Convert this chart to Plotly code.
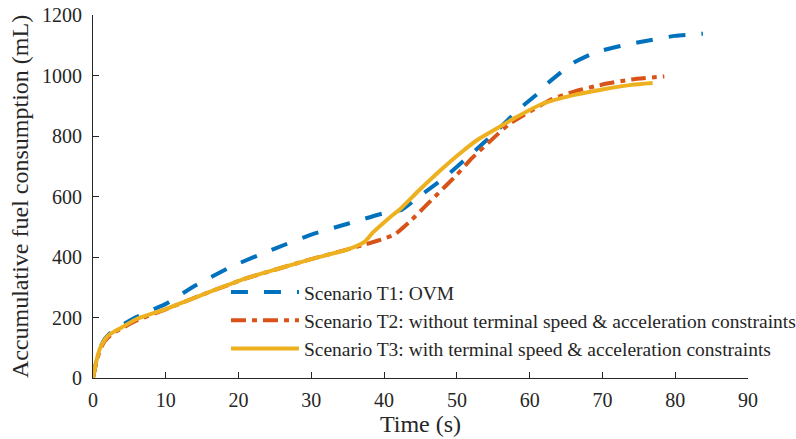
import plotly.graph_objects as go

t1 = [0, 0.5, 1, 1.5, 2, 3, 4, 6, 8, 10, 14, 19, 25, 30, 35, 40, 42.4, 44.8, 47.9, 51.6, 55.7, 58.5, 61, 62.6, 64.8, 66.1, 69, 72, 75, 80, 83.8]
y1 = [0, 60, 100, 125, 140, 160, 175, 202, 224, 245, 305, 368, 428, 474, 510, 545, 556, 600, 655, 732, 822, 888, 938, 977, 1020, 1043, 1076, 1095, 1110, 1131, 1138]

t2 = [0, 0.5, 1, 1.5, 2, 3, 4, 6, 10, 15, 21, 25, 30, 35, 37.5, 40, 41.5, 43.4, 47, 50, 52, 54.8, 57.1, 60, 63, 66, 70, 74, 78.5]
y2 = [0, 55, 95, 118, 132, 152, 165, 190, 227, 275, 329, 358, 393, 425, 442, 461, 475, 514, 600, 672, 725, 788, 838, 880, 921, 946, 970, 987, 997]

t3 = [0, 0.5, 1, 1.5, 2, 3, 4, 6, 10, 15, 21, 25, 30, 35, 37.3, 38.5, 40.5, 42.4, 44.7, 47.9, 50.7, 53, 55.7, 58, 61.6, 66, 70, 74, 76.9]
y3 = [0, 60, 100, 122, 138, 155, 168, 195, 228, 275, 329, 358, 393, 425, 450, 482, 525, 563, 618, 690, 748, 790, 828, 860, 905, 935, 954, 969, 975]

names = ["Scenario T1: OVM",
         "Scenario T2: without terminal speed &amp; acceleration constraints",
         "Scenario T3: with terminal speed &amp; acceleration constraints"]
colors = ["#0072BD", "#D95319", "#EDB120"]
dashes = ["17px,16px", "15px,6px,5px,6px", "solid"]

FONT = "Liberation Serif, Times New Roman, serif"
fig = go.Figure()
for i, (t, y) in enumerate([(t1, y1), (t2, y2), (t3, y3)]):
    fig.add_trace(go.Scatter(x=t, y=y, mode="lines", name=names[i],
                             line=dict(color=colors[i], width=4, dash=dashes[i], shape="spline", smoothing=0.5)))

fig.update_layout(
    width=796, height=439,
    margin=dict(l=93, r=48, t=15, b=61, autoexpand=False),
    paper_bgcolor="white", plot_bgcolor="white",
    font=dict(family=FONT, color="#262626", size=20),
    showlegend=True,
    legend=dict(x=0.203, y=0.29, xanchor="left", yanchor="top", bgcolor="rgba(0,0,0,0)",
                font=dict(size=19.5, family=FONT, color="#262626"), itemwidth=68),
    xaxis=dict(range=[0, 90], tickvals=list(range(0, 91, 10)), ticks="inside", ticklen=6,
               tickcolor="#262626", showline=True, linecolor="#262626", linewidth=1,
               showgrid=False, zeroline=False, tickfont=dict(size=20), automargin=False,
               ticklabelstandoff=4,
               title=dict(text="Time (s)", font=dict(size=24), standoff=2)),
    yaxis=dict(range=[0, 1200], tickvals=list(range(0, 1201, 200)), ticks="inside", ticklen=6,
               tickcolor="#262626", showline=True, linecolor="#262626", linewidth=1,
               showgrid=False, zeroline=False, tickfont=dict(size=20), automargin=False,
               ticklabelstandoff=6,
               title=dict(text="Accumulative fuel consumption (mL)", font=dict(size=24), standoff=6)),
)
# remove the browser's default 8px page margin so the figure fills the window
fig.write_html("out.html", config={"displayModeBar": False},
               post_script="document.body.style.margin='0px';")
